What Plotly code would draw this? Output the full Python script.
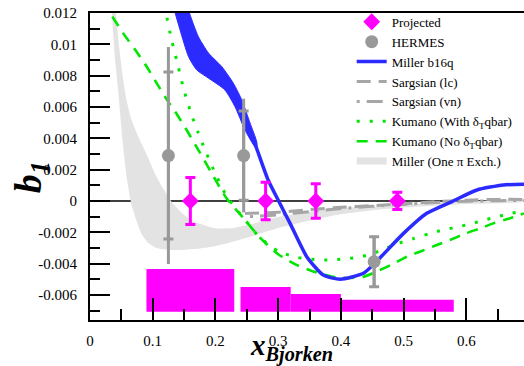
import numpy as np
import plotly.graph_objects as go

S = 1e-3  # values below are in units of 1e-3

# Projected points
proj_x = [0.16, 0.28, 0.36, 0.49]
proj_y = [0.0, 0.0, 0.0, 0.0]
proj_err = [1.5, 1.2, 1.1, 0.55]

# Projected systematic bands (bars at the bottom)
sys_lo = [0.09, 0.24, 0.32, 0.40]
sys_hi = [0.23, 0.32, 0.40, 0.58]
sys_top = [-4.35, -5.5, -5.94, -6.3]
sys_base = -7.07

# HERMES
herm_x = [0.125, 0.245, 0.453]
herm_y = [2.9, 2.9, -3.88]
herm_tot = [6.93, 3.63, 1.67]
herm_stat = [5.33, 2.85, 1.6]

# Miller b16q band (upper part) and central curve
mb_hi_x = [0.150, 0.157, 0.1727, 0.189, 0.210, 0.2286, 0.242, 0.255, 0.266]
mb_hi_y = [13.5, 12.2, 10.5, 9.44, 8.58, 7.52, 6.45, 5.0, 3.75]
mb_lo_x = [0.128, 0.1345, 0.1435, 0.157, 0.170, 0.189, 0.215, 0.231, 0.247, 0.258, 0.266]
mb_lo_y = [13.5, 12.2, 10.93, 9.22, 8.37, 7.84, 7.09, 6.03, 4.54, 3.75, 3.3]
mb_x = [0.255, 0.263, 0.284, 0.300, 0.319, 0.3456, 0.372, 0.399, 0.436, 0.457,
        0.500, 0.537, 0.577, 0.617, 0.659, 0.692]
mb_y = [4.4, 3.65, 1.34, 0.06, -1.43, -3.56, -4.73, -5.0, -4.62, -3.85,
        -2.07, -0.79, -0.04, 0.70, 1.02, 1.07]

# Sargsian
slc_x = [0.247, 0.30, 0.35, 0.40, 0.45, 0.50, 0.55, 0.60, 0.65, 0.692]
slc_y = [-0.8, -0.72, -0.55, -0.4, -0.3, -0.18, -0.05, 0.05, 0.1, 0.1]
svn_x = [0.255, 0.30, 0.35, 0.40, 0.45, 0.50, 0.55, 0.60, 0.65, 0.692]
svn_y = [-1.0, -0.88, -0.68, -0.48, -0.34, -0.22, -0.1, -0.02, 0.02, 0.03]

# Kumano (with delta_T qbar) - dotted
kw_x = [0.118, 0.121, 0.130, 0.140, 0.150, 0.162, 0.172, 0.183, 0.197, 0.218, 0.245,
        0.270, 0.300, 0.330, 0.367, 0.390, 0.410, 0.430, 0.452, 0.473, 0.494, 0.516,
        0.540, 0.563, 0.587, 0.610, 0.630, 0.650, 0.670, 0.692]
kw_y = [12.5, 12.0, 10.3, 8.69, 7.05, 5.5, 4.4, 3.3, 2.0, 0.3, -1.1,
        -2.3, -3.2, -3.6, -3.77, -3.75, -3.68, -3.58, -3.34, -3.0, -2.68, -2.4,
        -2.1, -1.85, -1.65, -1.43, -1.2, -1.0, -0.8, -0.65]

# Kumano (no delta_T qbar) - dashed
kn_x = [0.020, 0.032, 0.053, 0.072, 0.090, 0.106, 0.122, 0.140, 0.156, 0.175, 0.195,
        0.218, 0.245, 0.270, 0.300, 0.330, 0.360, 0.385, 0.410, 0.436, 0.460, 0.484,
        0.505, 0.526, 0.553, 0.574, 0.600, 0.622, 0.643, 0.670, 0.692]
kn_y = [12.8, 12.0, 10.7, 9.65, 8.6, 7.54, 6.5, 5.44, 4.4, 3.1, 1.7,
        0.15, -1.1, -2.3, -3.4, -4.1, -4.55, -4.82, -4.92, -4.84, -4.45, -4.0,
        -3.56, -3.24, -2.81, -2.49, -2.06, -1.75, -1.43, -1.1, -0.8]

# Miller (One pi Exch.) band
mp_hi_x = [0.040, 0.046, 0.052, 0.058, 0.066, 0.076, 0.0877, 0.106, 0.133, 0.160, 0.197, 0.223,
           0.250, 0.303, 0.356, 0.400, 0.4625, 0.50, 0.60, 0.692]
mp_hi_y = [12.5, 10.0, 8.0, 6.5, 5.2, 4.2, 3.2, 1.55, -0.2, -1.2, -1.72, -1.75,
           -1.55, -1.0, -0.65, -0.45, -0.33, -0.25, -0.05, 0.05]
mp_lo_x = [0.034, 0.040, 0.045, 0.048, 0.053, 0.0585, 0.066, 0.0745, 0.082, 0.092, 0.106,
           0.125, 0.1435, 0.170, 0.197, 0.223, 0.250, 0.303, 0.356, 0.400, 0.4625, 0.50, 0.60, 0.692]
mp_lo_y = [12.5, 9.0, 7.0, 5.6, 3.4, 1.5, -0.2, -1.3, -2.1, -2.65, -3.0,
           -3.12, -3.13, -3.05, -2.9, -2.65, -2.35, -1.7, -1.2, -0.85, -0.55, -0.42, -0.2, -0.05]

# Axis ticks
ytick_vals = [0.012, 0.010, 0.008, 0.006, 0.004, 0.002, 0.0, -0.002, -0.004, -0.006]
ytick_text = ["0.012", "0.01", "0.008", "0.006", "0.004", "0.002", "0", "-0.002", "-0.004", "-0.006"]
yminor_vals = [0.011, 0.009, 0.007, 0.005, 0.003, 0.001, -0.001, -0.003, -0.005, -0.007]
xtick_vals = [0, 0.1, 0.2, 0.3, 0.4, 0.5, 0.6]
xtick_text = ["0", "0.1", "0.2", "0.3", "0.4", "0.5", "0.6"]
xminor_vals = [0.05, 0.15, 0.25, 0.35, 0.45, 0.55, 0.65]

FONT = "Liberation Serif, Times New Roman, Times, serif"
MAG = "#ff00ff"
GRAY = "#999999"
SGRAY = "#a6a6a6"
GREEN = "#00e600"
BLUE = "#2b2bff"
LGRAY = "#e3e3e3"

def sc(a):
    return (np.array(a, dtype=float) * S).tolist()

SPL = dict(shape="spline", smoothing=0.6)

fig = go.Figure()

# Miller one-pi band
fig.add_trace(go.Scatter(
    x=mp_hi_x + mp_lo_x[::-1], y=sc(mp_hi_y + mp_lo_y[::-1]),
    fill="toself", fillcolor=LGRAY, mode="lines", line=dict(width=0, color=LGRAY, **SPL),
    showlegend=False, hoverinfo="skip"))

# systematic bars
centers = [(a + b) / 2 for a, b in zip(sys_lo, sys_hi)]
widths = [b - a for a, b in zip(sys_lo, sys_hi)]
heights = [(t - sys_base) * S for t in sys_top]
fig.add_trace(go.Bar(x=centers, y=heights, width=widths, base=sys_base * S,
                     marker=dict(color=MAG, line=dict(width=0)), showlegend=False))

# Kumano
fig.add_trace(go.Scatter(x=kn_x, y=sc(kn_y), mode="lines", line=dict(color=GREEN, width=2.6, dash="11px,8px", **SPL),
                         name="Kumano (No δ<sub>T</sub>qbar)", legendrank=7))
fig.add_trace(go.Scatter(x=kw_x, y=sc(kw_y), mode="lines", line=dict(color=GREEN, width=3, dash="3px,10px", **SPL),
                         name="Kumano (With δ<sub>T</sub>qbar)", legendrank=6))
# Sargsian
fig.add_trace(go.Scatter(x=svn_x, y=sc(svn_y), mode="lines", line=dict(color=SGRAY, width=3, dash="3px,7px,16px,7px", **SPL),
                         name="Sargsian (vn)", legendrank=5))
fig.add_trace(go.Scatter(x=slc_x, y=sc(slc_y), mode="lines", line=dict(color=SGRAY, width=3, dash="14px,8px", **SPL),
                         name="Sargsian (lc)", legendrank=4))

# Miller b16q band + line
fig.add_trace(go.Scatter(
    x=mb_hi_x + mb_lo_x[::-1], y=sc(mb_hi_y + mb_lo_y[::-1]),
    fill="toself", fillcolor=BLUE, mode="lines", line=dict(width=1, color=BLUE, **SPL),
    showlegend=False, hoverinfo="skip"))
fig.add_trace(go.Scatter(x=mb_x, y=sc(mb_y), mode="lines", line=dict(color=BLUE, width=3.5, **SPL),
                         name="Miller b16q", legendrank=3))

# legend entry for Miller one pi band
fig.add_trace(go.Scatter(x=[None], y=[None], mode="lines", line=dict(color=LGRAY, width=7),
                         name="Miller (One π Exch.)", legendrank=8))

# HERMES total errors (no caps) and stat errors (caps)
fig.add_trace(go.Scatter(x=herm_x, y=sc(herm_y), mode="markers",
                         marker=dict(color=GRAY, size=1),
                         error_y=dict(type="data", array=sc(herm_tot), color=GRAY, thickness=3, width=0),
                         showlegend=False, hoverinfo="skip"))
fig.add_trace(go.Scatter(x=herm_x, y=sc(herm_y), mode="markers",
                         marker=dict(color=GRAY, size=13, symbol="circle"),
                         error_y=dict(type="data", array=sc(herm_stat), color=GRAY, thickness=3, width=5),
                         name="HERMES", legendrank=2))

# Projected
fig.add_trace(go.Scatter(x=proj_x, y=sc(proj_y), mode="markers",
                         marker=dict(color=MAG, size=13, symbol="diamond"),
                         error_y=dict(type="data", array=sc(proj_err), color=MAG, thickness=3, width=5),
                         name="Projected", legendrank=1))

# zero line
fig.add_shape(type="line", xref="paper", x0=0, x1=1, yref="y", y0=0, y1=0,
              line=dict(color="black", width=1.5), layer="below")

# axis titles as annotations (for exact placement)
fig.add_annotation(text="<b><i>x<sub>Bjorken</sub></i></b>", xref="paper", yref="paper",
                   x=0.464, y=-0.155, xanchor="center", yanchor="bottom", showarrow=False,
                   font=dict(family=FONT, size=29, color="black"))
fig.add_annotation(text="<b><i>b<sub>1</sub></i></b>", xref="paper", yref="paper",
                   x=-0.195, y=0.466, xanchor="left", yanchor="middle", showarrow=False,
                   textangle=-90, font=dict(family=FONT, size=38, color="black"))

fig.update_layout(
    width=524, height=366,
    margin=dict(l=90, r=0, t=13, b=46, autoexpand=False),
    paper_bgcolor="white", plot_bgcolor="white",
    font=dict(family=FONT, size=15, color="black"),
    barmode="overlay",
    legend=dict(x=0.603, y=1.02, xanchor="left", yanchor="top", bgcolor="rgba(0,0,0,0)",
                font=dict(family=FONT, size=13), tracegroupgap=0, itemwidth=30),
    xaxis=dict(range=[0, 0.692], showgrid=False, zeroline=False, automargin=False,
               showline=True, linecolor="black", linewidth=2, mirror=True,
               ticks="inside", ticklen=22, tickwidth=2, tickcolor="black",
               tickmode="array", tickvals=xtick_vals, ticktext=xtick_text,
               ticklabelstandoff=6,
               minor=dict(tickmode="array", tickvals=xminor_vals, ticks="inside", ticklen=11, tickwidth=2, tickcolor="black")),
    yaxis=dict(range=[-0.0076, 0.012], showgrid=False, zeroline=False, automargin=False,
               showline=True, linecolor="black", linewidth=2, mirror=False,
               ticks="inside", ticklen=20, tickwidth=2, tickcolor="black",
               tickmode="array", tickvals=ytick_vals, ticktext=ytick_text,
               ticklabelstandoff=8,
               minor=dict(tickmode="array", tickvals=yminor_vals, ticks="inside", ticklen=10, tickwidth=2, tickcolor="black")),
)

fig.write_html("out.html", config={"displayModeBar": False},
               post_script="document.body.style.margin='0';document.body.style.padding='0';")
